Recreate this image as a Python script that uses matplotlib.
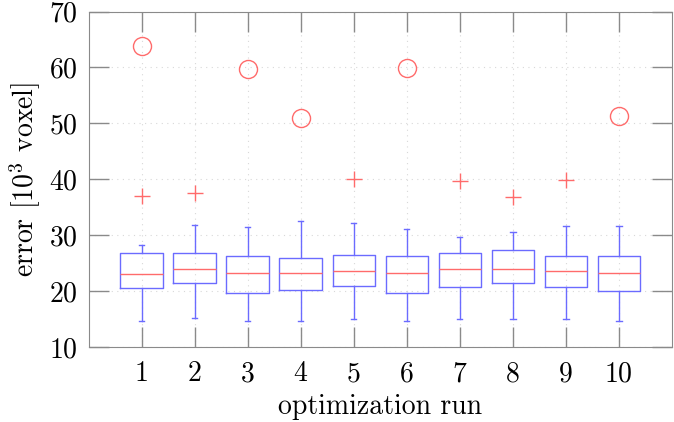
import numpy as np
import matplotlib.pyplot as plt

runs = [1, 2, 3, 4, 5, 6, 7, 8, 9, 10]
whislo = [14.7, 15.1, 14.65, 14.7, 15.0, 14.7, 15.0, 15.0, 15.0, 14.6]
q1 = [20.5, 21.5, 19.7, 20.2, 20.9, 19.7, 20.7, 21.5, 20.8, 20.1]
med = [23.1, 24.0, 23.25, 23.25, 23.6, 23.3, 24.0, 24.0, 23.6, 23.3]
q3 = [26.8, 26.8, 26.2, 25.9, 26.4, 26.3, 26.8, 27.3, 26.3, 26.2]
whishi = [28.3, 31.9, 31.5, 32.6, 32.2, 31.1, 29.6, 30.5, 31.7, 31.7]
fliers = [[37.0], [37.5], [], [], [40.0], [], [39.7], [36.9], [39.9], []]
# extra circle markers
circ_runs = [1, 3, 4, 6, 10]
circ_vals = [63.9, 59.7, 50.9, 59.9, 51.4]

plt.rcParams['font.family'] = 'cmr10'
plt.rcParams['mathtext.fontset'] = 'cm'
plt.rcParams['axes.formatter.use_mathtext'] = True

blue = '#6b6bff'
red = '#ff6b6b'
gray = '#8a8a8a'

fig = plt.figure(figsize=(6.74, 4.22), dpi=100)
ax = fig.add_axes([88.5/674, 1 - 347/422, (672 - 88.5)/674, (347 - 11.5)/422])

stats = []
for i in range(len(runs)):
    stats.append(dict(whislo=whislo[i], q1=q1[i], med=med[i], q3=q3[i],
                      whishi=whishi[i], fliers=fliers[i]))

ax.bxp(stats, positions=runs, widths=0.8, capwidths=0.1,
       boxprops=dict(color=blue, lw=1),
       whiskerprops=dict(color=blue, lw=1),
       capprops=dict(color=blue, lw=1),
       medianprops=dict(color=red, lw=1),
       flierprops=dict(marker='+', markeredgecolor=red, markersize=12, mew=1))
ax.plot(circ_runs, circ_vals, 'o', mfc='none', mec=red, ms=13, mew=1)

ax.set_xlim(0, 11)
ax.set_ylim(10, 70)
ax.set_xticks(runs)
ax.set_xticklabels([str(r) for r in runs])
ax.set_yticks(np.arange(10, 71, 10))
ax.grid(True, color='#d8d8d8', ls=(0, (1, 4)), lw=0.8)
for s in ax.spines.values():
    s.set_color(gray)
ax.tick_params(direction='in', length=14.5, width=1, color=gray,
               top=True, right=True, labelsize=20)
ax.tick_params(axis='x', pad=10)
ax.tick_params(axis='y', pad=8)
ax.set_xlabel('optimization run', fontsize=20, labelpad=5)
ax.set_ylabel(r'error [$10^3$ voxel]', fontsize=20, labelpad=4)

fig.savefig('out.png', dpi=100)
